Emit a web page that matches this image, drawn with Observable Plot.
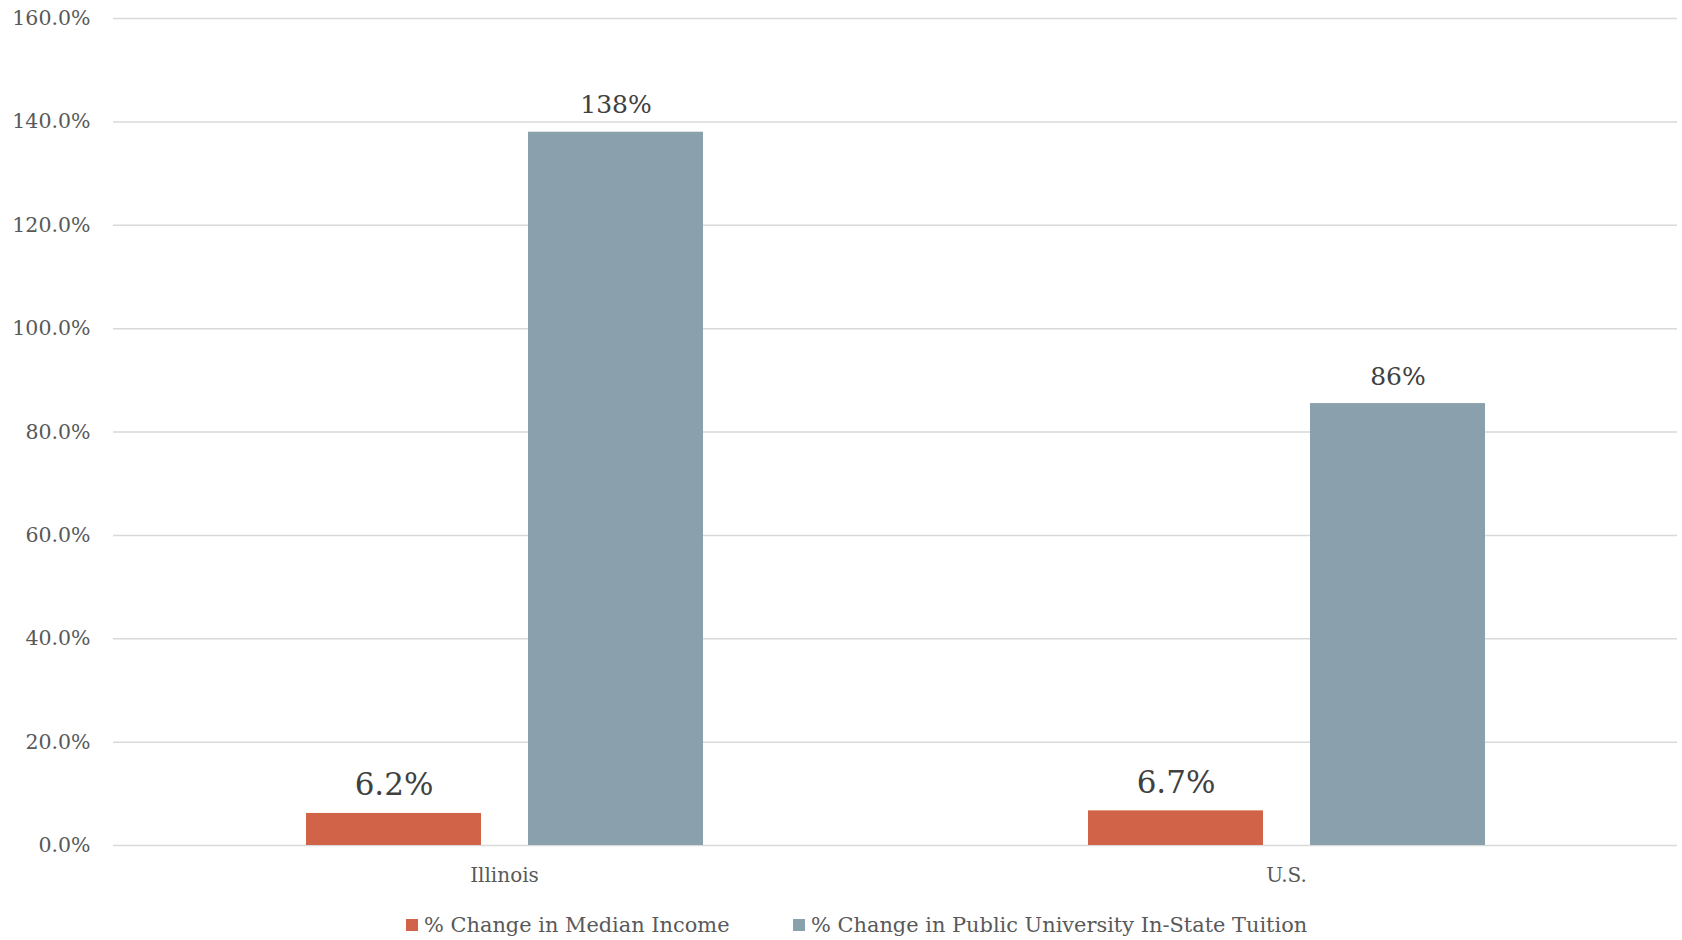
<!DOCTYPE html>
<html>
<head>
<meta charset="utf-8">
<script src="https://cdn.jsdelivr.net/npm/d3@7"></script>
<script src="https://cdn.jsdelivr.net/npm/@observablehq/plot@0.6"></script>
<style>
  html, body { margin: 0; padding: 0; background: #ffffff; }
  #wrap { position: relative; width: 1682px; height: 940px; font-family: Georgia, "DejaVu Serif", serif; }
  #legend { position: absolute; left: 0; top: 910px; width: 1682px; height: 30px; color: #595959; font-size: 20.9px; }
  .item { position: absolute; top: 0; height: 30px; display: flex; align-items: center; white-space: nowrap; }
  .sw { width: 12px; height: 12px; margin-right: 6px; display: inline-block; }
</style>
</head>
<body>
<div id="wrap"><div id="chart"></div><div id="legend"></div></div>
<script>
const categories = ["Illinois", "U.S."];
const seriesNames = ["% Change in Median Income", "% Change in Public University In-State Tuition"];
const incomeChange = [0.062, 0.067];
const tuitionChange = [1.38, 0.855];
const incomeLabels = ["6.2%", "6.7%"];
const tuitionLabels = ["138%", "86%"];
const yTicks = [0, 0.2, 0.4, 0.6, 0.8, 1.0, 1.2, 1.4, 1.6];
const seriesColors = ["#D16349", "#8AA1AD"];

const data = categories.flatMap((c, i) => [
  {cat: c, series: seriesNames[0], value: incomeChange[i], label: incomeLabels[i]},
  {cat: c, series: seriesNames[1], value: tuitionChange[i], label: tuitionLabels[i]}
]);

const fontFamily = 'Georgia, "DejaVu Serif", serif';

const chart = Plot.plot({
  width: 1682,
  height: 900,
  marginTop: 18,
  marginBottom: 55,
  marginLeft: 113,
  marginRight: 5,
  style: {fontFamily, fontSize: "20px", color: "#595959", background: "#ffffff"},
  fx: {domain: categories, padding: 0, label: null},
  x: {domain: seriesNames, paddingInner: 0.212, paddingOuter: 0.867, axis: null},
  y: {domain: [0, 1.6], label: null},
  color: {domain: seriesNames, range: seriesColors},
  marks: [
    Plot.gridY(yTicks, {stroke: "#d9d9d9", strokeOpacity: 1, strokeWidth: 1.5}),
    Plot.axisY(yTicks, {anchor: "left", tickSize: 0, tickPadding: 23, tickFormat: d3.format(".1%"), fontSize: 20.5, fill: "#595959", label: null}),
    Plot.barY(data, {fx: "cat", x: "series", y: "value", fill: "series"}),
    Plot.text(data.filter(d => d.series === seriesNames[0]), {fx: "cat", x: "series", y: "value", text: "label", fontSize: 31, fill: "#404040", dy: -28}),
    Plot.text(data.filter(d => d.series === seriesNames[1]), {fx: "cat", x: "series", y: "value", text: "label", fontSize: 25, fill: "#404040", dy: -27}),
    Plot.axisFx({anchor: "bottom", tickSize: 0, tickPadding: 22, fontSize: 20, fill: "#595959", label: null})
  ]
});
document.getElementById("chart").appendChild(chart);

const legend = document.getElementById("legend");
const legendLeft = [406, 793];
seriesNames.forEach((name, i) => {
  const item = document.createElement("div");
  item.className = "item";
  item.style.left = legendLeft[i] + "px";
  const sw = document.createElement("span");
  sw.className = "sw";
  sw.style.background = seriesColors[i];
  const t = document.createElement("span");
  t.textContent = name;
  item.appendChild(sw);
  item.appendChild(t);
  legend.appendChild(item);
});
</script>
</body>
</html>
